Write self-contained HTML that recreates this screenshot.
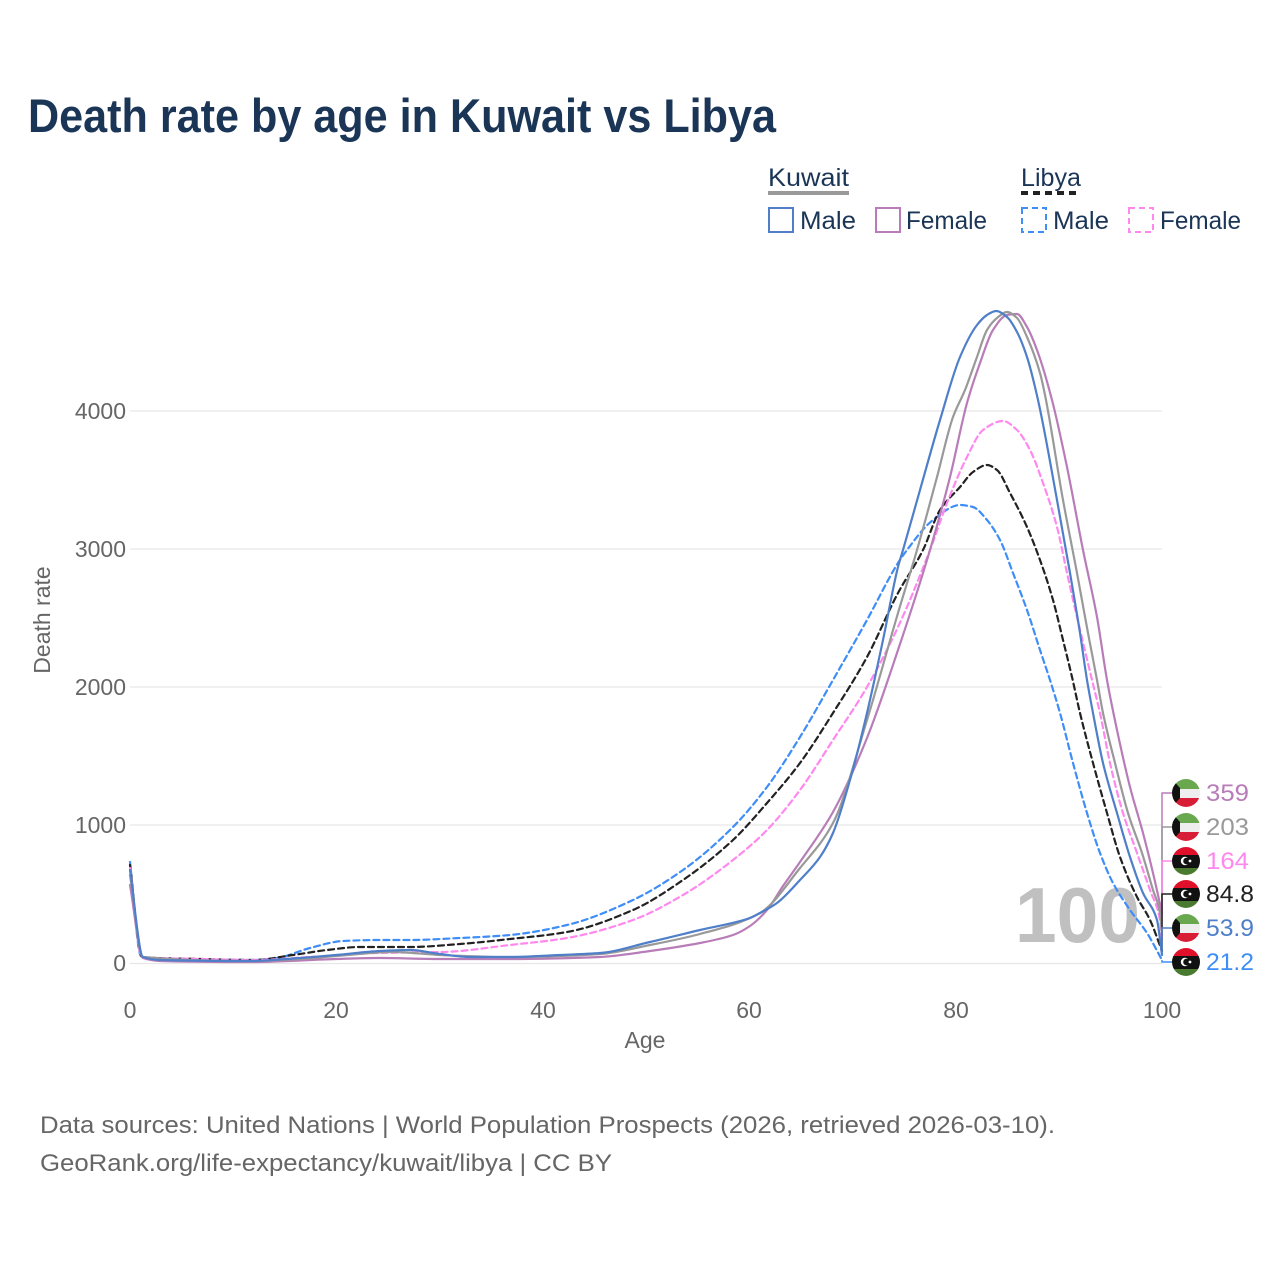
<!DOCTYPE html>
<html><head><meta charset="utf-8"><style>
html,body{margin:0;padding:0;background:#fff;}
svg{display:block;}
text{font-family:"Liberation Sans",Arial,sans-serif;}
</style></head><body>
<svg id="chart" width="1280" height="1280" viewBox="0 0 1280 1280" xmlns="http://www.w3.org/2000/svg">
<defs>
<clipPath id="c1"><circle cx="1186" cy="793" r="14"/></clipPath>
<clipPath id="c2"><circle cx="1186" cy="827" r="14"/></clipPath>
<clipPath id="c3"><circle cx="1186" cy="861" r="14"/></clipPath>
<clipPath id="c4"><circle cx="1186" cy="894" r="14"/></clipPath>
<clipPath id="c5"><circle cx="1186" cy="928" r="14"/></clipPath>
<clipPath id="c6"><circle cx="1186" cy="962" r="14"/></clipPath>
</defs>
<rect width="1280" height="1280" fill="#fff"/>
<text x="28" y="132" font-size="47" font-weight="bold" fill="#1b3556" textLength="748" lengthAdjust="spacingAndGlyphs">Death rate by age in Kuwait vs Libya</text>

<!-- legend -->
<text x="768" y="186" font-size="25" fill="#1b3556" textLength="81" lengthAdjust="spacingAndGlyphs">Kuwait</text>
<line x1="768" y1="193" x2="849" y2="193" stroke="#999" stroke-width="4"/>
<text x="1021" y="186" font-size="25" fill="#1b3556" textLength="60" lengthAdjust="spacingAndGlyphs">Libya</text>
<line x1="1021" y1="193" x2="1081" y2="193" stroke="#222" stroke-width="4" stroke-dasharray="7,5"/>
<rect x="769" y="208" width="24" height="24" fill="none" stroke="#4f7fc9" stroke-width="2"/>
<text x="800" y="229" font-size="25" fill="#1b3556" textLength="56" lengthAdjust="spacingAndGlyphs">Male</text>
<rect x="876" y="208" width="24" height="24" fill="none" stroke="#b87db8" stroke-width="2"/>
<text x="906" y="229" font-size="25" fill="#1b3556" textLength="81" lengthAdjust="spacingAndGlyphs">Female</text>
<rect x="1022" y="208" width="24" height="24" fill="none" stroke="#3f8ef7" stroke-width="2" stroke-dasharray="6,4"/>
<text x="1053" y="229" font-size="25" fill="#1b3556" textLength="56" lengthAdjust="spacingAndGlyphs">Male</text>
<rect x="1129" y="208" width="24" height="24" fill="none" stroke="#ff88ee" stroke-width="2" stroke-dasharray="6,4"/>
<text x="1160" y="229" font-size="25" fill="#1b3556" textLength="81" lengthAdjust="spacingAndGlyphs">Female</text>

<!-- grid -->
<g stroke="#e6e6e6" stroke-width="1.3">
<line x1="130" y1="411" x2="1162" y2="411"/>
<line x1="130" y1="549" x2="1162" y2="549"/>
<line x1="130" y1="687" x2="1162" y2="687"/>
<line x1="130" y1="825" x2="1162" y2="825"/>
<line x1="130" y1="963.5" x2="1162" y2="963.5"/>
</g>
<g font-size="23" fill="#666" text-anchor="end">
<text x="126" y="419">4000</text>
<text x="126" y="557">3000</text>
<text x="126" y="695">2000</text>
<text x="126" y="833">1000</text>
<text x="126" y="971">0</text>
</g>
<g font-size="23" fill="#666" text-anchor="middle">
<text x="130" y="1018">0</text>
<text x="336" y="1018">20</text>
<text x="543" y="1018">40</text>
<text x="749" y="1018">60</text>
<text x="956" y="1018">80</text>
<text x="1162" y="1018">100</text>
<text x="645" y="1048">Age</text>
</g>
<text transform="translate(50,620) rotate(-90)" font-size="23" fill="#666" text-anchor="middle">Death rate</text>

<!-- big 100 -->
<text x="1015" y="942" font-size="78" font-weight="bold" fill="#c0c0c0" textLength="125" lengthAdjust="spacingAndGlyphs">100</text>

<!-- series -->
<g fill="none" stroke-width="2.2" stroke-linejoin="round" stroke-linecap="round">
<polyline class="s" stroke="#3f8ef7" stroke-dasharray="6,4" points="130,862 141,956 150,958 200,960 253,960 277,958 310,948 343,941 380,940 410,940 460,938 510,935 567,925 633,900 683,870 733,827 767,787 800,737 833,680 867,620 898,563 907,550 933,520 960,505 973,507 987,520 1000,540 1013,573 1027,610 1040,650 1050,680 1060,713 1073,763 1087,813 1100,853 1113,883 1130,910 1147,933 1162,960"/>
<polyline class="s" stroke="#222" stroke-dasharray="6,4" points="130,865 142,957 200,959 253,960 293,955 327,950 360,947 410,947 460,944 510,939 567,932 633,910 683,880 733,840 767,803 800,763 833,713 867,657 898,593 923,550 940,510 960,487 973,472 987,465 997,470 1010,493 1027,527 1040,560 1053,600 1063,640 1072,677 1080,713 1093,763 1107,813 1120,857 1137,897 1150,920 1162,951"/>
<polyline class="s" stroke="#ff88ee" stroke-dasharray="6,4" points="130,868 142,957 200,959 253,960 310,957 377,953 443,952 510,945 567,938 633,920 683,895 733,860 767,830 800,790 833,740 867,687 898,627 930,550 947,503 967,457 983,430 1003,421 1017,430 1030,450 1043,483 1057,527 1067,573 1077,617 1092,680 1100,713 1110,763 1123,813 1137,853 1150,890 1160,920 1162,940"/>
<polyline class="s" stroke="#b87db8" points="130,885 143,958 160,961 250,962 336,959 377,958 440,959 510,959 600,957 650,951 700,943 733,935 750,926 767,910 783,886 800,862 833,812 867,738 898,650 930,550 950,477 967,403 980,363 993,330 1007,315 1017,314 1027,327 1037,350 1052,400 1067,467 1083,550 1097,617 1107,680 1117,730 1130,787 1143,833 1153,873 1162,913"/>
<polyline class="s" stroke="#999" points="130,875 143,957 250,961 300,959 336,956 393,952 440,955 510,957 600,954 650,945 700,934 760,913 800,868 833,823 867,720 898,613 917,550 937,477 953,417 965,390 977,357 987,330 997,318 1007,312 1017,318 1027,337 1040,373 1045,395 1063,500 1077,573 1088,633 1097,680 1103,713 1115,763 1128,813 1142,853 1153,890 1160,913 1162,935"/>
<polyline class="s" stroke="#4f7fc9" points="130,870 143,957 160,960 250,961 300,958 336,955 380,951 410,950 440,954 470,957 510,957 560,955 600,953 650,942 700,930 750,918 760,913 777,903 800,880 820,857 833,833 850,780 867,713 883,640 898,567 903,550 920,490 940,420 960,357 977,325 987,315 996,311 1007,317 1017,332 1027,357 1038,400 1057,500 1070,573 1080,633 1087,680 1093,713 1103,763 1117,813 1130,857 1143,893 1157,920 1162,955"/>
</g>

<!-- connectors -->
<g fill="none" stroke-width="1.5">
<polyline stroke="#b87db8" points="1162,913 1162,793 1172,793"/>
<polyline stroke="#999" points="1162,935 1162,827 1172,827"/>
<polyline stroke="#ff88ee" points="1162,940 1162,861 1172,861"/>
<polyline stroke="#222" points="1162,951 1162,894 1172,894"/>
<polyline stroke="#4f7fc9" points="1162,955 1162,928 1172,928"/>
<polyline stroke="#3f8ef7" points="1162,960 1162,962 1172,962"/>
</g>

<!-- flags -->
<g clip-path="url(#c1)">
<rect x="1172" y="779" width="28" height="10" fill="#6aa84f"/>
<rect x="1172" y="789" width="28" height="9" fill="#eeeeee"/>
<rect x="1172" y="798" width="28" height="10" fill="#d81e36"/>
<polygon points="1172,779 1180,788 1180,798 1172,807" fill="#111"/>
</g>
<g clip-path="url(#c2)">
<rect x="1172" y="813" width="28" height="10" fill="#6aa84f"/>
<rect x="1172" y="823" width="28" height="9" fill="#eeeeee"/>
<rect x="1172" y="832" width="28" height="10" fill="#d81e36"/>
<polygon points="1172,813 1180,822 1180,832 1172,841" fill="#111"/>
</g>
<g clip-path="url(#c3)">
<rect x="1172" y="847" width="28" height="8" fill="#e0102a"/>
<rect x="1172" y="855" width="28" height="13" fill="#111"/>
<rect x="1172" y="868" width="28" height="8" fill="#4a7a30"/>
<circle cx="1185" cy="861" r="4.2" fill="#fff"/><circle cx="1186.6" cy="861" r="3.4" fill="#111"/>
<circle cx="1190" cy="861" r="1.4" fill="#fff"/>
</g>
<g clip-path="url(#c4)">
<rect x="1172" y="880" width="28" height="8" fill="#e0102a"/>
<rect x="1172" y="888" width="28" height="13" fill="#111"/>
<rect x="1172" y="901" width="28" height="8" fill="#4a7a30"/>
<circle cx="1185" cy="894" r="4.2" fill="#fff"/><circle cx="1186.6" cy="894" r="3.4" fill="#111"/>
<circle cx="1190" cy="894" r="1.4" fill="#fff"/>
</g>
<g clip-path="url(#c5)">
<rect x="1172" y="914" width="28" height="10" fill="#6aa84f"/>
<rect x="1172" y="924" width="28" height="9" fill="#eeeeee"/>
<rect x="1172" y="933" width="28" height="10" fill="#d81e36"/>
<polygon points="1172,914 1180,923 1180,933 1172,942" fill="#111"/>
</g>
<g clip-path="url(#c6)">
<rect x="1172" y="948" width="28" height="8" fill="#e0102a"/>
<rect x="1172" y="956" width="28" height="13" fill="#111"/>
<rect x="1172" y="969" width="28" height="8" fill="#4a7a30"/>
<circle cx="1185" cy="962" r="4.2" fill="#fff"/><circle cx="1186.6" cy="962" r="3.4" fill="#111"/>
<circle cx="1190" cy="962" r="1.4" fill="#fff"/>
</g>

<g font-size="24">
<text x="1206" y="801" fill="#b87db8" textLength="43" lengthAdjust="spacingAndGlyphs">359</text>
<text x="1206" y="835" fill="#999" textLength="43" lengthAdjust="spacingAndGlyphs">203</text>
<text x="1206" y="869" fill="#ff88ee" textLength="43" lengthAdjust="spacingAndGlyphs">164</text>
<text x="1206" y="902" fill="#222" textLength="48" lengthAdjust="spacingAndGlyphs">84.8</text>
<text x="1206" y="936" fill="#4f7fc9" textLength="48" lengthAdjust="spacingAndGlyphs">53.9</text>
<text x="1206" y="970" fill="#3f8ef7" textLength="48" lengthAdjust="spacingAndGlyphs">21.2</text>
</g>

<text x="40" y="1133" font-size="24" fill="#666" textLength="1015" lengthAdjust="spacingAndGlyphs">Data sources: United Nations | World Population Prospects (2026, retrieved 2026-03-10).</text>
<text x="40" y="1171" font-size="24" fill="#666" textLength="572" lengthAdjust="spacingAndGlyphs">GeoRank.org/life-expectancy/kuwait/libya | CC BY</text>
</svg>
<script>
(function(){
  var NS="http://www.w3.org/2000/svg";
  var pls=document.querySelectorAll("polyline.s");
  for(var k=0;k<pls.length;k++){
    var pl=pls[k];
    var raw=pl.getAttribute("points").trim().split(/\s+/);
    var p=raw.map(function(s){var a=s.split(",");return [parseFloat(a[0]),parseFloat(a[1])];});
    var n=p.length,i;
    var h=[],del=[],m=[];
    for(i=0;i<n-1;i++){h[i]=p[i+1][0]-p[i][0];del[i]=(p[i+1][1]-p[i][1])/h[i];}
    m[0]=del[0];m[n-1]=del[n-2];
    for(i=1;i<n-1;i++){
      if(del[i-1]*del[i]<=0){m[i]=0;}
      else{
        var w1=2*h[i]+h[i-1],w2=h[i]+2*h[i-1];
        m[i]=(w1+w2)/(w1/del[i-1]+w2/del[i]);
      }
    }
    var d="M"+p[0][0]+","+p[0][1];
    for(i=0;i<n-1;i++){
      var hh=h[i]/3;
      d+=" C"+(p[i][0]+hh).toFixed(2)+","+(p[i][1]+m[i]*hh).toFixed(2)+" "+(p[i+1][0]-hh).toFixed(2)+","+(p[i+1][1]-m[i+1]*hh).toFixed(2)+" "+p[i+1][0]+","+p[i+1][1];
    }
    var path=document.createElementNS(NS,"path");
    path.setAttribute("d",d);
    ["stroke","stroke-dasharray"].forEach(function(a){var v=pl.getAttribute(a);if(v)path.setAttribute(a,v);});
    pl.parentNode.replaceChild(path,pl);
  }
})();
</script>
</body></html>
